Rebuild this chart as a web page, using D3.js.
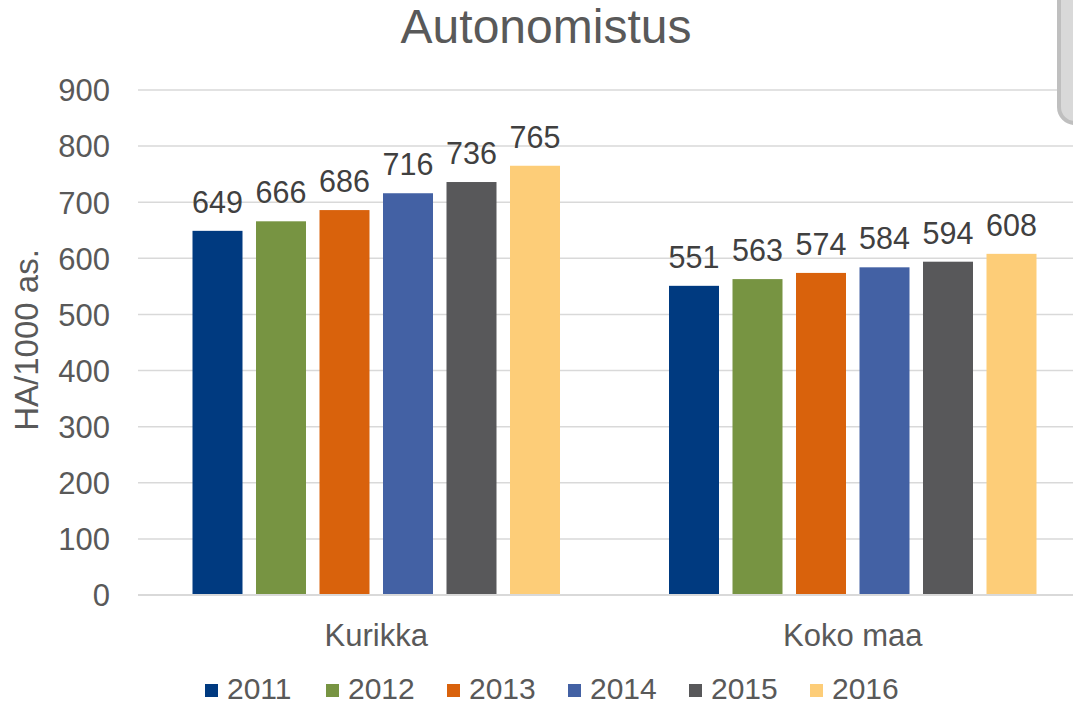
<!DOCTYPE html>
<html><head><meta charset="utf-8">
<script src="https://cdn.jsdelivr.net/npm/d3@7"></script>
<style>body{margin:0;background:#fff;}svg{display:block;font-family:"Liberation Sans",Arial,sans-serif;}</style>
</head><body>
<svg id="c" width="1073" height="705"></svg>
<script>
const categories = ["Kurikka", "Koko maa"];
const years = ["2011", "2012", "2013", "2014", "2015", "2016"];
const kurikka = [649, 666, 686, 716, 736, 765];
const kokoMaa = [551, 563, 574, 584, 594, 608];
const yTicks = [0, 100, 200, 300, 400, 500, 600, 700, 800, 900];
const colors = ["#003A80", "#779442", "#D9620C", "#4361A4", "#58585A", "#FDCD78"];
const title = "Autonomistus";
const yTitle = "HA/1000 as.";

const seriesByCat = [kurikka, kokoMaa];
const svg = d3.select("#c");
const plotLeft = 138, plotRight = 1091, plotTop = 90, plotBottom = 595;

const x0 = d3.scaleBand().domain(categories).range([plotLeft, plotRight]).padding(0);
const x1 = d3.scaleBand().domain(years).range([0, x0.bandwidth()])
  .paddingInner(13.5 / 63.5).paddingOuter(54.5 / 63.5);
const y = d3.scaleLinear().domain([0, 900]).range([plotBottom, plotTop]);
const color = d3.scaleOrdinal().domain(years).range(colors);

// gridlines
svg.append("g").selectAll("line").data(yTicks.filter(d => d > 0)).join("line")
  .attr("x1", plotLeft).attr("x2", plotRight)
  .attr("y1", d => y(d)).attr("y2", d => y(d))
  .attr("stroke", "#d9d9d9").attr("stroke-width", 1.5);

// y axis labels
const yAxis = d3.axisLeft(y).tickValues(yTicks).tickSize(0).tickPadding(0);
const ya = svg.append("g").attr("transform", `translate(110,0)`).call(yAxis);
ya.select(".domain").remove();
ya.selectAll("text").attr("font-size", 31).attr("fill", "#595959")
  .attr("font-family", "Liberation Sans, Arial, sans-serif").attr("dy", "0.35em");

// bars
const groups = svg.append("g").selectAll("g").data(categories).join("g")
  .attr("transform", d => `translate(${x0(d)},0)`);
groups.selectAll("rect").data((c, i) => years.map((yr, j) => ({yr, v: seriesByCat[i][j]}))).join("rect")
  .attr("x", d => x1(d.yr)).attr("width", x1.bandwidth())
  .attr("y", d => y(d.v)).attr("height", d => y(0) - y(d.v))
  .attr("fill", d => color(d.yr));
groups.selectAll("text").data((c, i) => years.map((yr, j) => ({yr, v: seriesByCat[i][j]}))).join("text")
  .attr("x", d => x1(d.yr) + x1.bandwidth() / 2).attr("y", d => y(d.v) - 18)
  .attr("text-anchor", "middle").attr("font-size", 30.5).attr("fill", "#404040")
  .text(d => d.v);

// baseline
svg.append("line").attr("x1", plotLeft).attr("x2", plotRight)
  .attr("y1", y(0)).attr("y2", y(0)).attr("stroke", "#d9d9d9").attr("stroke-width", 2);

// category axis labels
const xAxis = d3.axisBottom(x0).tickSize(0).tickPadding(0);
const xa = svg.append("g").attr("transform", `translate(0,${y(0)})`).call(xAxis);
xa.select(".domain").remove();
xa.selectAll("text").attr("font-size", 31).attr("fill", "#595959")
  .attr("font-family", "Liberation Sans, Arial, sans-serif").attr("dy", null).attr("y", 51);

// title
svg.append("text").attr("x", 546).attr("y", 43).attr("text-anchor", "middle")
  .attr("font-size", 48).attr("fill", "#595959").text(title);

// y title
svg.append("text").attr("transform", "translate(38,340) rotate(-90)").attr("text-anchor", "middle")
  .attr("font-size", 33).attr("fill", "#595959").text(yTitle);

// legend
const leg = svg.append("g");
let lx = 205;
years.forEach((yr, i) => {
  leg.append("rect").attr("x", lx).attr("y", 684).attr("width", 13).attr("height", 13).attr("fill", colors[i]);
  leg.append("text").attr("x", lx + 22).attr("y", 699).attr("font-size", 30)
    .attr("fill", "#595959").text(yr);
  lx += 121;
});

// partial gray box at top right
svg.append("rect").attr("x", 1059).attr("y", -30).attr("width", 60).attr("height", 153)
  .attr("rx", 16).attr("fill", "#d9d9d9").attr("stroke", "#bfbfbf").attr("stroke-width", 4);
</script>
</body></html>
